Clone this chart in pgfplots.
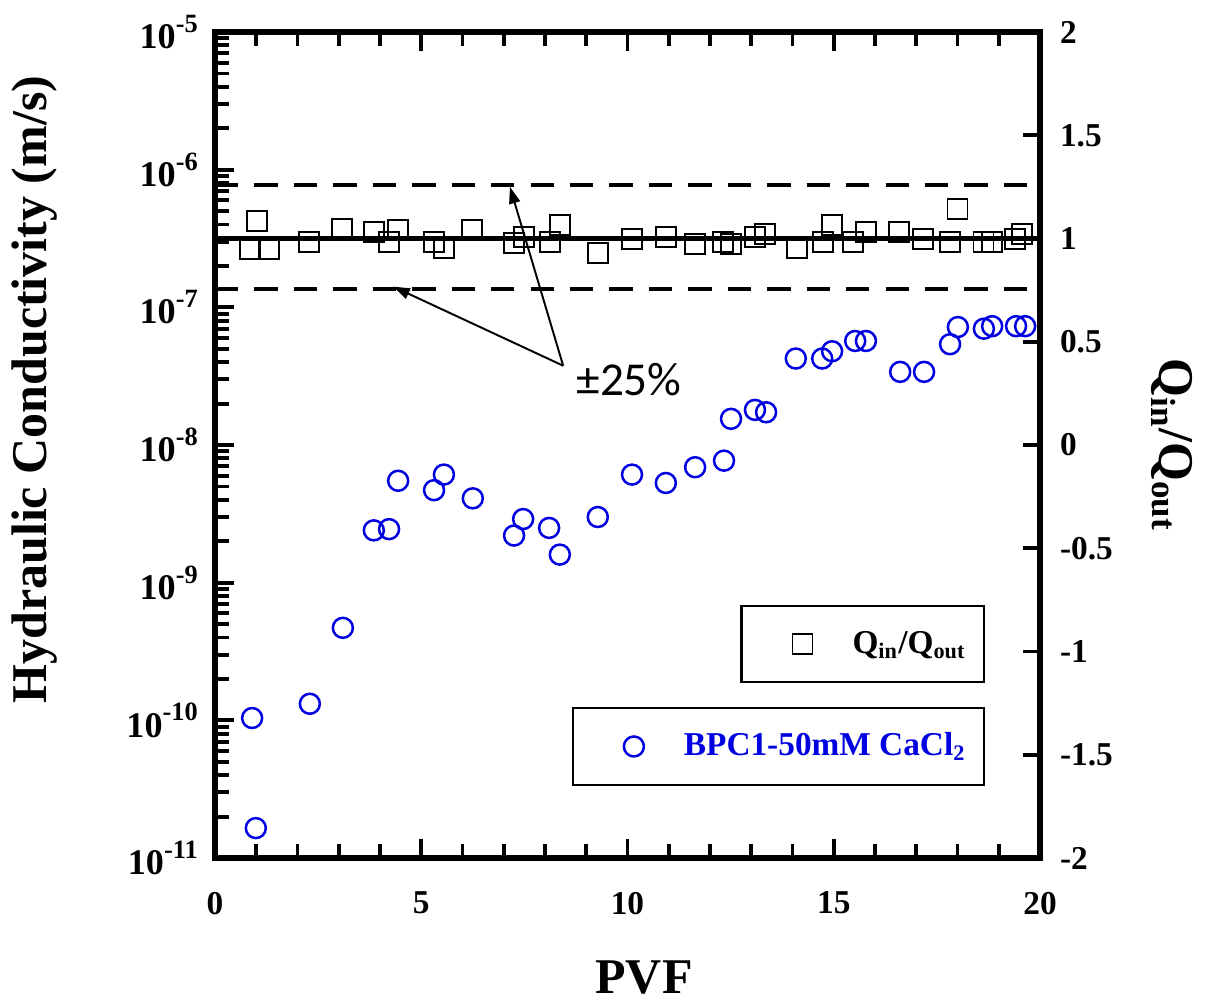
\documentclass[border=0pt]{standalone}
\usepackage{pgfplots}
\pgfplotsset{compat=1.18}
\usetikzlibrary{arrows.meta}
\usepackage{fontspec}
\setmainfont{Liberation Serif}
\newfontfamily\calibri{Carlito}
\definecolor{myblue}{RGB}{0,0,225}
\newcommand{\tp}[1]{10\raisebox{0.45em}{\fontsize{9.5}{10}\selectfont #1}}

\begin{document}
\begin{tikzpicture}
\pgfplotsset{
  common/.style={
    scale only axis, width=297pt, height=297.36pt,
    xmin=0, xmax=20,
    axis line style={line width=2pt},
    tick label style={font=\fontsize{12}{14}\selectfont\bfseries},
    /pgf/number format/assume math mode=true,
    label style={font=\fontsize{18}{20}\selectfont\bfseries},
  },
}
\begin{axis}[common,
  ymode=log, log basis y=10, ymin=1e-11, ymax=1e-5,
  ytick={1e-11,1e-10,1e-9,1e-8,1e-7,1e-6,1e-5},
  ytick pos=left,
  xtick={0,5,10,15,20}, minor x tick num=4,
  yticklabels={\tp{-11},\tp{-10},\tp{-9},\tp{-8},\tp{-7},\tp{-6},\tp{-5}},
  major tick length=7pt, minor tick length=5pt,
  every tick/.style={black, line width=1.4pt},
  xticklabel style={inner ysep=12pt},
  yticklabel style={inner xsep=6pt, font=\fontsize{13}{14}\selectfont\bfseries},
  xlabel={PVF}, ylabel={Hydraulic Conductivity (m/s)},
  xlabel style={at={(axis description cs:0.52,-0.145)}, anchor=center},
  ylabel style={at={(axis description cs:-0.219,0.567)}, anchor=center},
  legend style={at={(0.9333,0.1832)}, draw=black, line width=0.8pt, inner xsep=0pt, inner ysep=7pt,
      anchor=north east, column sep=0pt,
      font=\fontsize{12}{14}\selectfont\bfseries, nodes={inner xsep=0pt}},
  legend image code/.code={\path[draw=none,fill=none] (-22pt,-6pt) rectangle (18pt,6pt); \draw[#1] plot coordinates {(0pt,0pt)};},
]
\addplot[only marks, mark=o, mark size=3.6pt, draw=myblue, mark options={line width=0.9pt}] coordinates {
(0.90,1.04e-10) (0.99,1.65e-11) (2.30,1.32e-10) (3.10,4.7e-10) (3.85,2.4e-9)
(4.22,2.45e-9) (4.44,5.5e-9) (5.31,4.7e-9) (5.55,6.1e-9) (6.25,4.1e-9)
(7.25,2.2e-9) (7.47,2.9e-9) (8.10,2.5e-9) (8.36,1.6e-9) (9.28,3.0e-9)
(10.11,6.1e-9) (10.93,5.3e-9) (11.64,6.9e-9) (12.34,7.7e-9) (12.51,1.55e-8)
(13.09,1.8e-8) (13.36,1.73e-8) (14.08,4.25e-8) (14.72,4.25e-8) (14.96,4.8e-8)
(15.52,5.7e-8) (15.78,5.7e-8) (16.61,3.4e-8) (17.19,3.4e-8) (17.82,5.4e-8)
(18.01,7.2e-8) (18.64,7.0e-8) (18.84,7.3e-8) (19.42,7.3e-8) (19.64,7.3e-8)
};
\addlegendentry{\textcolor{myblue}{BPC1-50mM CaCl\textsubscript{2}}\kern6.5pt}
\end{axis}

\begin{axis}[common,
  axis x line=none, axis y line*=right,
  major tick length=6pt,
  every tick/.style={black, line width=1.4pt},
  ymin=-2, ymax=2, ytick={-2,-1.5,-1,-0.5,0,0.5,1,1.5,2},
  yticklabel style={inner xsep=7pt, /pgf/number format/fixed},
  ylabel={Q\textsubscript{in}/Q\textsubscript{out}},
  ylabel style={at={(axis description cs:1.16,0.5)}, anchor=center, rotate=180},
  legend style={at={(0.9333,0.3063)}, draw=black, line width=0.8pt, inner xsep=0pt, inner ysep=7pt,
      anchor=north east, column sep=0pt,
      font=\fontsize{12}{14}\selectfont\bfseries, nodes={inner xsep=0pt}},
  legend image code/.code={\path[draw=none,fill=none] (-22pt,-6pt) rectangle (18pt,6pt); \draw[#1] plot coordinates {(0pt,0pt)};},
  clip=false,
]
\addplot[only marks, mark=square, mark size=3.6pt, draw=black, mark options={line width=0.7pt}] coordinates {
(0.85,0.949) (1.01,1.086) (1.31,0.949) (2.29,0.985) (3.09,1.045) (3.85,1.033)
(4.22,0.985) (4.43,1.041) (5.32,0.985) (5.56,0.953) (6.24,1.041) (7.25,0.977)
(7.49,1.009) (8.12,0.985) (8.36,1.065) (9.29,0.928) (10.10,0.996) (10.93,1.006)
(11.64,0.972) (12.32,0.985) (12.52,0.972) (13.09,1.006) (13.33,1.022) (14.10,0.953)
(14.73,0.985) (14.95,1.065) (15.47,0.985) (15.78,1.030) (16.59,1.030) (17.17,0.998)
(17.82,0.985) (18.00,1.141) (18.63,0.985) (18.84,0.985) (19.40,0.998) (19.56,1.020)
};
\addlegendentry{Q\textsubscript{in}/Q\textsubscript{out}\kern6.5pt}
\addplot[forget plot, black, line width=1.5pt] coordinates {(0,1) (20,1)};
\addplot[forget plot, black, line width=1.4pt, dash pattern=on 8.4pt off 5.8pt] coordinates {(0,1.26) (20,1.26)};
\addplot[forget plot, black, line width=1.4pt, dash pattern=on 8.4pt off 5.8pt] coordinates {(0,0.755) (20,0.755)};
\draw[line width=0.7pt, -{Triangle[length=6pt,width=4pt]}] (axis cs:8.44,0.384) -- (axis cs:7.15,1.25);
\draw[line width=0.7pt, -{Triangle[length=6pt,width=4pt]}] (axis cs:8.44,0.384) -- (axis cs:4.32,0.767);
\node[anchor=west, inner sep=0pt, font=\calibri\fontsize{17}{20}\selectfont] at (axis cs:8.75,0.315) {±25\%};
\end{axis}

\begin{axis}[common,
  ymode=log, log basis y=10, ymin=1e-11, ymax=1e-5,
  ytick={1e-11,1e-10,1e-9,1e-8,1e-7,1e-6,1e-5},
  minor ytick={2e-11,3e-11,4e-11,5e-11,6e-11,7e-11,8e-11,9e-11,
    2e-10,3e-10,4e-10,5e-10,6e-10,7e-10,8e-10,9e-10,
    2e-9,3e-9,4e-9,5e-9,6e-9,7e-9,8e-9,9e-9,
    2e-8,3e-8,4e-8,5e-8,6e-8,7e-8,8e-8,9e-8,
    2e-7,3e-7,4e-7,5e-7,6e-7,7e-7,8e-7,9e-7,
    2e-6,3e-6,4e-6,5e-6,6e-6,7e-6,8e-6,9e-6},
  xtick pos=both, ytick pos=left,
  xtick={0,5,10,15,20}, minor x tick num=4,
  xticklabels={}, yticklabels={},
  major tick length=7pt, minor tick length=5pt,
  every tick/.style={black, line width=1.4pt},
]
\addplot[draw=none, mark=none, forget plot] coordinates {(1,1e-9) (2,1e-8)};
\end{axis}
\path (current axis.south west) ++(-77.4pt,-52.56pt) rectangle ++(441pt,361.44pt);
\end{tikzpicture}
\end{document}
